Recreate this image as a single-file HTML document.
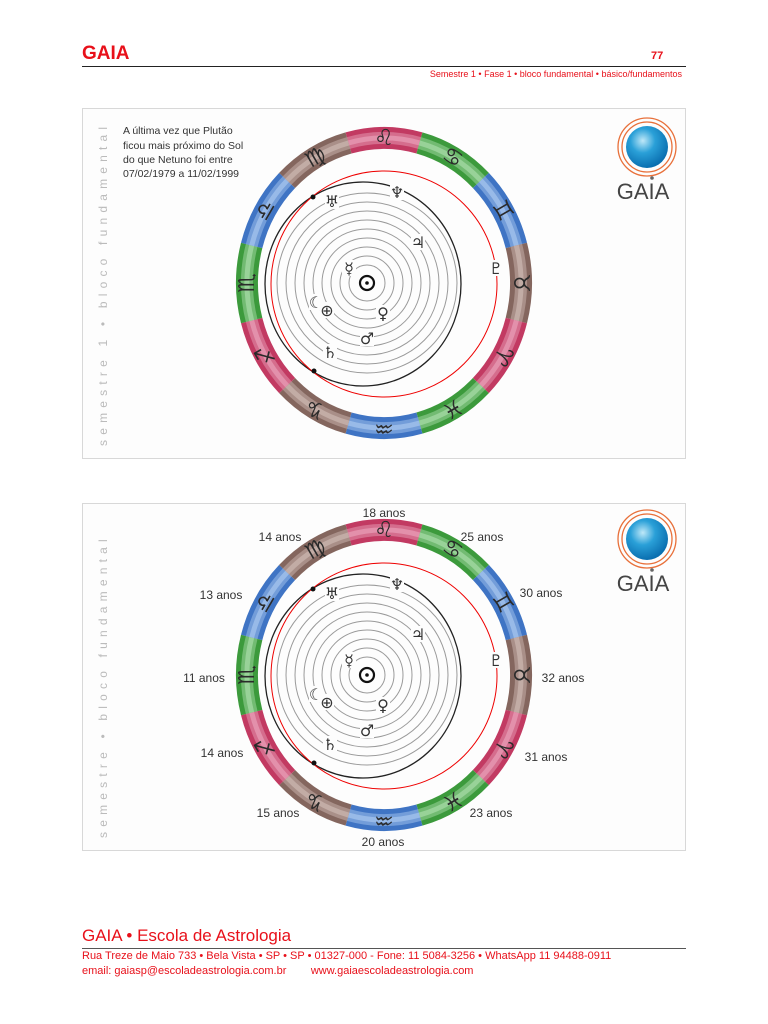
<!DOCTYPE html>
<html><head><meta charset="utf-8">
<style>
body{margin:0;background:#fff;}
#pg{position:relative;width:768px;height:1024px;overflow:hidden;font-family:"Liberation Sans",sans-serif;}
.r{color:#e8101a;position:absolute;white-space:nowrap;}
</style></head><body><div id="pg">
<div class="r" style="left:82px;top:43px;font-size:19px;font-weight:bold;">GAIA</div>
<div class="r" style="left:651px;top:50px;font-size:11px;font-weight:bold;">77</div>
<div style="position:absolute;left:82px;top:66px;width:604px;height:1px;background:#222;"></div>
<div class="r" style="right:86px;top:69px;font-size:9px;">Semestre 1 • Fase 1 • bloco fundamental • básico/fundamentos</div>

<div class="r" style="left:82px;top:926px;font-size:17px;">GAIA • Escola de Astrologia</div>
<div style="position:absolute;left:82px;top:948px;width:604px;height:1px;background:#555;"></div>
<div class="r" style="left:82px;top:950px;font-size:11px;">Rua Treze de Maio 733 • Bela Vista • SP • SP • 01327-000 - Fone: 11 5084-3256 • WhatsApp 11 94488-0911</div>
<div class="r" style="left:82px;top:965px;font-size:11px;">email: gaiasp@escoladeastrologia.com.br &nbsp;&nbsp;&nbsp;&nbsp;&nbsp;&nbsp; www.gaiaescoladeastrologia.com</div>

<svg id="s" width="768" height="1024" style="position:absolute;left:0;top:0" xmlns="http://www.w3.org/2000/svg" font-family="Liberation Sans, DejaVu Sans, sans-serif">
<rect x="82.5" y="108.5" width="603" height="350" fill="#fdfdfd" stroke="#d8d8d8"/>
<rect x="82.5" y="503.5" width="603" height="347" fill="#fdfdfd" stroke="#d8d8d8"/>
<text transform="translate(107,446) rotate(-90)" font-size="12" fill="#bbb" letter-spacing="5.2">semestre 1 • bloco fundamental</text>
<text transform="translate(107,838) rotate(-90)" font-size="12" fill="#bbb" letter-spacing="5.2">semestre • bloco fundamental</text>
<g font-size="10.5" fill="#333">
<text x="123" y="134">A última vez que Plutão</text>
<text x="123" y="149">ficou mais próximo do Sol</text>
<text x="123" y="163">do que Netuno foi entre</text>
<text x="123" y="177">07/02/1979 a 11/02/1999</text>
</g>
<g font-size="12" fill="#333" text-anchor="middle">
<text x="384" y="517">18 anos</text><text x="280" y="541">14 anos</text><text x="482" y="541">25 anos</text>
<text x="221" y="599">13 anos</text><text x="541" y="597">30 anos</text><text x="204" y="682">11 anos</text>
<text x="563" y="682">32 anos</text><text x="222" y="757">14 anos</text><text x="546" y="761">31 anos</text>
<text x="278" y="817">15 anos</text><text x="491" y="817">23 anos</text><text x="383" y="846">20 anos</text>
</g>
<g id="charts"></g>
</svg>
</div>
<script>
var g=document.getElementById('charts'),h='';
var cols=[['#c23a62','#e8a0b8'],['#3c9a3c','#a8dca8'],['#3f74c4','#a8c6ee'],['#84665e','#cdb8b2']];
var zs=['♌','♋','♊','♉','♈','♓','♒','♑','♐','♏','♎','♍'];
function P(cx,cy,rx,ry,t){return [cx+rx*Math.cos(t),cy+ry*Math.sin(t)];}
function chart(cy){
 var cx=384,rx=137,ry=145;
 for(var i=0;i<12;i++){
  var a0=(-105+30*i)*Math.PI/180,a1=a0+Math.PI/6,p0=P(cx,cy,rx,ry,a0),p1=P(cx,cy,rx,ry,a1);
  var d='M'+p0[0]+' '+p0[1]+' A'+rx+' '+ry+' 0 0 1 '+p1[0]+' '+p1[1];
  var c=cols[i%4];
  h+='<path d="'+d+'" fill="none" stroke="'+c[0]+'" stroke-width="22"/>';
  h+='<path d="'+d+'" fill="none" stroke="'+c[1]+'" stroke-width="12" opacity="0.5"/>';
  h+='<path d="'+d+'" fill="none" stroke="'+c[1]+'" stroke-width="5" opacity="0.7"/>';
  var am=a0+Math.PI/12,pm=P(cx,cy,rx,ry,am),deg=am*180/Math.PI+90;
  h+='<text transform="translate('+pm[0]+','+pm[1]+') rotate('+deg+')" font-family="DejaVu Sans" font-size="22" fill="#2a2a2a" text-anchor="middle" dy="7">'+zs[i]+'</text>';
 }
 var sx=367;
 for(var r=18;r<=90;r+=9) h+='<circle cx="'+sx+'" cy="'+cy+'" r="'+r+'" fill="none" stroke="#9a9a9a" stroke-width="1"/>';
 h+='<ellipse cx="363" cy="'+(cy+1)+'" rx="98" ry="102" fill="none" stroke="#222" stroke-width="1.3"/>';
 h+='<circle cx="384" cy="'+(cy+1)+'" r="113" fill="none" stroke="#e00" stroke-width="1"/>';
 h+='<circle cx="313" cy="'+(cy-86)+'" r="2.5" fill="#111"/><circle cx="314" cy="'+(cy+88)+'" r="2.5" fill="#111"/>';
 h+='<circle cx="'+sx+'" cy="'+cy+'" r="7" fill="#fff" stroke="#111" stroke-width="2.2"/><circle cx="'+sx+'" cy="'+cy+'" r="1.8" fill="#111"/>';
 var pl=[['♆',397,-91],['♅',332,-82],['♃',418,-41],['♇',496,-15],['☿',349,-15],['☾',316,19],['⊕',327,27],['♀',383,30],['♂',367,55],['♄',330,69]];
 pl.forEach(function(p){h+='<rect x="'+(p[1]-7)+'" y="'+(cy+p[2]-8)+'" width="14" height="16" fill="#fdfdfd"/><text x="'+p[1]+'" y="'+(cy+p[2]+6)+'" font-family="DejaVu Sans" font-size="16" fill="#333" text-anchor="middle">'+p[0]+'</text>';});
 var ly=cy-136;
 h+='<circle cx="647" cy="'+ly+'" r="29" fill="none" stroke="#e8703a" stroke-width="1.3"/><circle cx="647" cy="'+ly+'" r="25" fill="none" stroke="#e8703a" stroke-width="1.3"/>';
 h+='<defs><radialGradient id="bg'+cy+'" cx="40%" cy="35%" r="65%"><stop offset="0" stop-color="#bfe8f8"/><stop offset="0.45" stop-color="#2aa0d8"/><stop offset="1" stop-color="#0a6fb0"/></radialGradient></defs>';
 h+='<circle cx="647" cy="'+ly+'" r="21" fill="url(#bg'+cy+')"/><circle cx="652" cy="'+(ly+31)+'" r="1.8" fill="#666"/>';
 h+='<text x="643" y="'+(ly+52)+'" font-size="22" fill="#444" text-anchor="middle">GAIA</text>';
}
chart(283);chart(675);
g.innerHTML=h;
</script>
</body></html>
